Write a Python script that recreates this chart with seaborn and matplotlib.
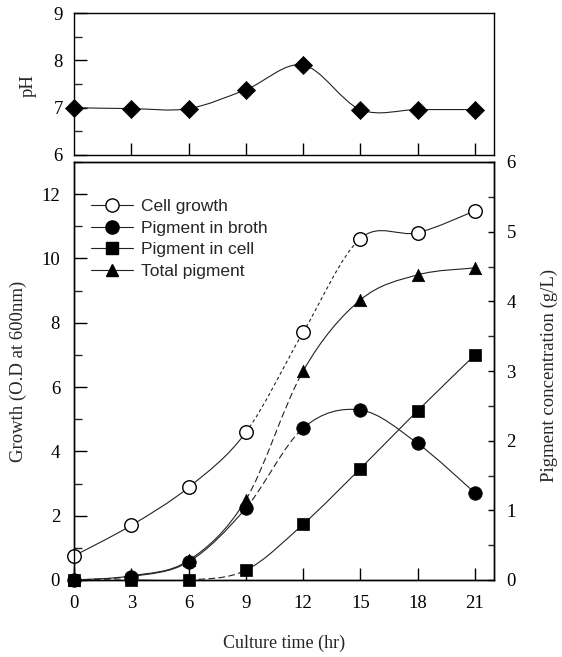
import numpy as np
import matplotlib
matplotlib.use("Agg")
import matplotlib.pyplot as plt
import seaborn as sns
from matplotlib.path import Path
from matplotlib.patches import PathPatch
from matplotlib.lines import Line2D
from matplotlib.ticker import MultipleLocator

# ---------------- data ----------------
time_hr = [0, 3, 6, 9, 12, 15, 18, 21]
ph = [7.0, 6.98, 6.98, 7.38, 7.9, 6.96, 6.96, 6.96]
cell_growth = [0.75, 1.7, 2.88, 4.59, 7.7, 10.62, 10.8, 11.48]
pigment_broth = [0.0, 0.05, 0.26, 1.03, 2.18, 2.44, 1.96, 1.25]
pigment_cell = [0.0, 0.0, 0.0, 0.14, 0.8, 1.6, 2.43, 3.23]
total_pigment = [0.0, 0.06, 0.28, 1.15, 3.0, 4.02, 4.38, 4.48]
x_ticks = [0, 3, 6, 9, 12, 15, 18, 21]
legend_labels = ["Cell growth", "Pigment in broth", "Pigment in cell", "Total pigment"]

sns.set_theme(style="ticks")
plt.rcParams['font.family'] = ['Liberation Serif', 'DejaVu Serif']
plt.rcParams['axes.linewidth'] = 1.0

SOLID = '-'
FINE = (0, (3, 2.5))
LONG = (0, (6, 3))
LC = '#222222'
LW = 0.8


def smooth_line(ax, x, y, styles, color=LC, lw=LW):
    P = np.column_stack([np.asarray(x, float), np.asarray(y, float)])
    n = len(P)
    for i in range(n - 1):
        p0 = P[max(i - 1, 0)]
        p1 = P[i]
        p2 = P[i + 1]
        p3 = P[min(i + 2, n - 1)]
        c1 = p1 + (p2 - p0) / 6.0
        c2 = p2 - (p3 - p1) / 6.0
        path = Path([p1, c1, c2, p2],
                    [Path.MOVETO, Path.CURVE4, Path.CURVE4, Path.CURVE4])
        ax.add_patch(PathPatch(path, facecolor='none', edgecolor=color,
                               lw=lw, linestyle=styles[i],
                               transform=ax.transData, zorder=2))


W, H = 562, 657
fig = plt.figure(figsize=(W / 100, H / 100), dpi=100)
fig.patch.set_facecolor('white')

L, R = 74, 494
axp = fig.add_axes([L / W, 1 - 155 / H, (R - L) / W, (155 - 13) / H])
ax = fig.add_axes([L / W, 1 - 580 / H, (R - L) / W, (580 - 162) / H])
ax2 = ax.twinx()

for a in (axp, ax, ax2):
    for s in a.spines.values():
        s.set_visible(True)
        s.set_color('black')
        s.set_linewidth(1.0)
axp.set_facecolor('white')
ax.set_facecolor('white')
ax2.set_facecolor('none')

TICK_FS = 13.5
LABEL_FS = 13.5

# ---------------- pH panel ----------------
smooth_line(axp, time_hr, ph, [SOLID] * 7)
sns.scatterplot(x=time_hr, y=ph, ax=axp, marker='D', s=85, color='black',
                edgecolor='black', linewidth=0.5, zorder=3, clip_on=False,
                legend=False)
axp.set_xlim(0, 22)
axp.set_ylim(6, 9)
axp.set_xticks(x_ticks[1:])
axp.yaxis.set_major_locator(MultipleLocator(1))
axp.yaxis.set_minor_locator(MultipleLocator(0.5))
axp.tick_params(axis='both', which='major', direction='in', length=9,
                width=1, labelsize=TICK_FS, pad=8, colors='black',
                top=False, right=False, labelbottom=False)
axp.tick_params(axis='y', which='minor', direction='in', length=6, width=1,
                right=False)
axp.set_ylabel('pH', fontsize=LABEL_FS)
axp.yaxis.set_label_coords(-0.088, 0.49)
axp.set_xlabel('')

# ---------------- main panel ----------------
smooth_line(ax, time_hr, cell_growth, [SOLID, SOLID, SOLID, FINE, FINE, SOLID, SOLID])
sns.scatterplot(x=time_hr, y=cell_growth, ax=ax, marker='o', s=95,
                color='white', edgecolor='black', linewidth=1.0, zorder=3,
                clip_on=False, legend=False)

smooth_line(ax2, time_hr, pigment_broth, [LONG, SOLID, SOLID, LONG, SOLID, SOLID, SOLID])
smooth_line(ax2, time_hr, pigment_cell, [LONG, SOLID, LONG, SOLID, SOLID, SOLID, SOLID])
smooth_line(ax2, time_hr, total_pigment, [SOLID, SOLID, SOLID, LONG, SOLID, SOLID, SOLID])
sns.scatterplot(x=time_hr, y=total_pigment, ax=ax2, marker='^', s=80,
                color='black', edgecolor='black', linewidth=0.5, zorder=3,
                clip_on=False, legend=False)
sns.scatterplot(x=time_hr, y=pigment_broth, ax=ax2, marker='o', s=95,
                color='black', edgecolor='black', linewidth=0.5, zorder=4,
                clip_on=False, legend=False)
sns.scatterplot(x=time_hr, y=pigment_cell, ax=ax2, marker='s', s=70,
                color='black', edgecolor='black', linewidth=0.5, zorder=5,
                clip_on=False, legend=False)

ax.set_xlim(0, 22)
ax.set_ylim(0, 13)
ax2.set_ylim(0, 6)
ax.set_xticks(x_ticks)
ax.yaxis.set_major_locator(MultipleLocator(2))
ax.yaxis.set_minor_locator(MultipleLocator(1))
ax.tick_params(axis='both', which='major', direction='in', length=9, width=1,
               labelsize=TICK_FS, colors='black', top=False, right=False)
ax.tick_params(axis='y', which='major', pad=10)
ax.tick_params(axis='x', which='major', pad=11)
ax.tick_params(axis='y', which='minor', direction='in', length=6, width=1,
               right=False)
ax2.yaxis.set_major_locator(MultipleLocator(1))
ax2.yaxis.set_minor_locator(MultipleLocator(0.5))
ax2.tick_params(axis='y', which='major', direction='in', length=4, width=1,
                labelsize=TICK_FS, pad=9, colors='black', left=False)
ax2.tick_params(axis='y', which='minor', direction='in', length=4, width=1,
                left=False)

ax.set_xlabel('Culture time (hr)', fontsize=13)
ax.xaxis.set_label_coords(0.5, -0.132)
ax.set_ylabel('Growth (O.D at 600nm)', fontsize=LABEL_FS)
ax.yaxis.set_label_coords(-0.112, 0.50)
ax2.set_ylabel('Pigment concentration (g/L)', fontsize=LABEL_FS, rotation=90)
ax2.yaxis.set_label_coords(1.112, 0.49)

# ---------------- legend ----------------
handles = [
    Line2D([], [], color=LC, lw=LW, marker='o', markersize=9.5,
           markerfacecolor='white', markeredgecolor='black', markeredgewidth=1.0),
    Line2D([], [], color=LC, lw=LW, marker='o', markersize=9.5,
           markerfacecolor='black', markeredgecolor='black'),
    Line2D([], [], color=LC, lw=LW, marker='s', markersize=8,
           markerfacecolor='black', markeredgecolor='black'),
    Line2D([], [], color=LC, lw=LW, marker='^', markersize=9,
           markerfacecolor='black', markeredgecolor='black'),
]
leg = ax2.legend(handles, legend_labels, loc='upper left',
                 bbox_to_anchor=(91 / W, 1 - 199 / H),
                 bbox_transform=fig.transFigure, frameon=False,
                 borderpad=0, borderaxespad=0, handlelength=2.4,
                 handletextpad=0.5, labelspacing=0.37,
                 prop={'family': 'Liberation Sans', 'size': 12.5})
leg.set_zorder(10)

fig.savefig('out.png', dpi=100, facecolor='white')
